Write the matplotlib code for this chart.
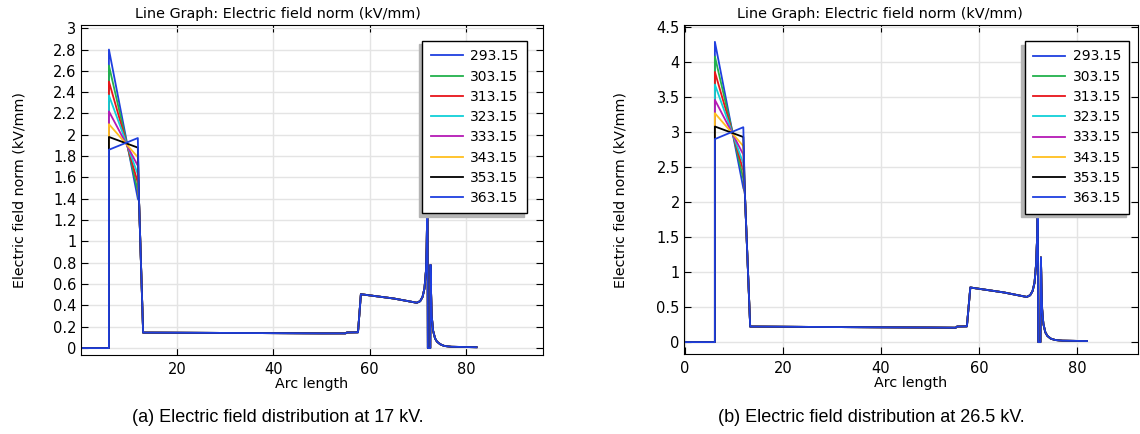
import matplotlib
matplotlib.use("Agg")
import matplotlib.pyplot as plt
from matplotlib.ticker import FuncFormatter
import numpy as np

# temperatures (K) shown in legend
temps = ["293.15", "303.15", "313.15", "323.15", "333.15", "343.15", "353.15", "363.15"]
colors = ["#1f3fdf", "#22b14c", "#e8141a", "#10d0d8", "#b519b5", "#ffbf1f", "#000000", "#1f3fdf"]

# ---- panel (a) 17 kV ----
a_peak = [2.80, 2.65, 2.50, 2.37, 2.22, 2.10, 1.98, 1.86]   # at x = 5.9
a_end = [1.40, 1.47, 1.55, 1.63, 1.71, 1.79, 1.88, 1.97]     # at x = 11.9
a_head_x = [0.0, 5.9, 5.9, 11.9, 12.15]
a_tail_x = [13.0, 30, 50, 55.0, 55.3, 57.6, 58.2, 65, 69.8, 70.5, 71.0, 71.4, 71.7,
            71.85, 71.95, 72.02, 72.1, 72.6, 72.65, 72.75, 72.9, 73.2, 73.6, 74.0,
            74.7, 75.5, 77, 82.2]
a_tail_y = [0.145, 0.142, 0.138, 0.138, 0.146, 0.148, 0.505, 0.465, 0.425, 0.44, 0.48,
            0.56, 0.72, 0.95, 1.25, 1.6, 0.0, 0.0, 0.78, 0.55, 0.30, 0.16, 0.09, 0.06,
            0.035, 0.02, 0.012, 0.008]
a_knee = 1.38

# ---- panel (b) 26.5 kV ----
b_peak = [4.29, 4.08, 3.86, 3.68, 3.46, 3.27, 3.08, 2.90]   # at x = 6.1
b_end = [2.20, 2.33, 2.45, 2.55, 2.68, 2.80, 2.93, 3.07]     # at x = 11.9
b_head_x = [0.0, 6.1, 6.1, 11.9, 12.2]
b_tail_x = [13.3, 30, 50, 55.2, 55.5, 57.5, 58.2, 65, 69.7, 70.4, 70.9, 71.3, 71.6,
            71.8, 71.9, 71.95, 72.05, 72.5, 72.6, 72.7, 72.85, 73.1, 73.5, 73.9,
            74.6, 75.5, 77, 82.0]
b_tail_y = [0.222, 0.215, 0.208, 0.205, 0.222, 0.225, 0.78, 0.71, 0.645, 0.67, 0.73,
            0.85, 1.1, 1.45, 1.9, 2.5, 0.0, 0.0, 1.21, 0.85, 0.47, 0.26, 0.14, 0.09,
            0.05, 0.03, 0.02, 0.015]
b_knee = 2.15

fig = plt.figure(figsize=(11.4, 4.34), dpi=100)
W, H = 1140, 434


def px_axes(x0, x1, y0, y1):
    return fig.add_axes([x0 / W, 1 - y1 / H, (x1 - x0) / W, (y1 - y0) / H])


def draw_panel(ax, head_x, peaks, ends, knee, tail_x, tail_y, xlim, ylim, yticks, xticks,
               leg_anchor, title_x, ylab_pad):
    for i in range(len(temps)):
        xs = head_x + tail_x
        ys = [0.0, 0.0, peaks[i], ends[i], knee] + tail_y
        ax.plot(xs, ys, color=colors[i], lw=1.3, label=temps[i])
    ax.set_xlim(*xlim)
    ax.set_ylim(*ylim)
    ax.set_yticks(yticks)
    ax.set_xticks(xticks)
    ax.yaxis.set_major_formatter(FuncFormatter(lambda v, p: "%g" % round(v, 2)))
    ax.grid(True, color="#e4e4e4", lw=1)
    ax.set_axisbelow(True)
    ax.tick_params(direction="in", top=True, right=True, length=5, labelsize=10.5, pad=3)
    ax.tick_params(axis="x", pad=5)
    ax.set_title("Line Graph: Electric field norm (kV/mm)", fontsize=10.4, pad=5, x=title_x)
    ax.set_xlabel("Arc length", fontsize=10.3, labelpad=0)
    ax.set_ylabel("Electric field norm (kV/mm)", fontsize=10.3, labelpad=ylab_pad)
    leg = ax.legend(loc="upper right", bbox_to_anchor=leg_anchor, borderaxespad=0,
                    fontsize=10, frameon=True, fancybox=False, edgecolor="black",
                    shadow={"ox": -2.5, "oy": -2.5, "color": "#b4b4b4", "alpha": 1},
                    handlelength=2.3, handletextpad=0.55, labelspacing=0.45,
                    borderpad=0.6)
    leg.get_frame().set_linewidth(1.0)


ax1 = px_axes(80.5, 543, 25, 355)
draw_panel(ax1, a_head_x, a_peak, a_end, a_knee, a_tail_x, a_tail_y,
           (0, 96), (-0.065, 3.03), np.arange(0, 3.01, 0.2), [20, 40, 60, 80],
           (0.9654, 0.9515), 0.427, 19)

ax2 = px_axes(684, 1138, 25, 354)
draw_panel(ax2, b_head_x, b_peak, b_end, b_knee, b_tail_x, b_tail_y,
           (-0.2, 92.4), (-0.17, 4.53), np.arange(0, 4.51, 0.5), [0, 20, 40, 60, 80],
           (0.981, 0.951), 0.432, 21)

fig.text(278 / W, 1 - 417 / H, "(a) Electric field distribution at 17 kV.",
         ha="center", va="center", fontsize=13, family="Liberation Sans")
fig.text(871 / W, 1 - 417 / H, "(b) Electric field distribution at 26.5 kV.",
         ha="center", va="center", fontsize=13, family="Liberation Sans")

fig.savefig("out.png", dpi=100)
